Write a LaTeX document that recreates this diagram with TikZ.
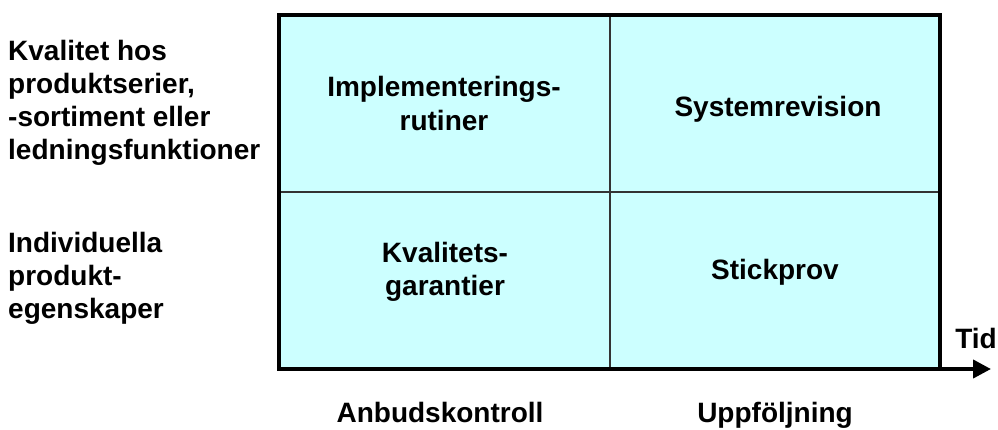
\documentclass[tikz,border=0pt]{standalone}
\usepackage{fontspec}
\setmainfont{Liberation Sans}
\usetikzlibrary{arrows.meta}
\definecolor{cellfill}{HTML}{CCFFFF}
\tikzset{
  lbl/.style={font=\fontsize{28}{33}\selectfont\bfseries, inner sep=0pt},
  lblw/.style={lbl, anchor=base west},
  lblc/.style={lbl, anchor=base},
  frame/.style={draw=black, line width=4pt, fill=cellfill},
  divider/.style={draw=black!80, line width=2pt},
  timearrow/.style={line width=4pt, -{Triangle[length=18pt,width=18pt]}}
}
\begin{document}
\begin{tikzpicture}[x=1pt,y=-1pt]
\useasboundingbox (0,0) rectangle (998,429);
% matrix box
\coordinate (tl) at (279,15);
\coordinate (br) at (940,369);
\path[frame] (tl) rectangle (br);
\coordinate (vt) at (610,15);
\coordinate (vb) at (610,369);
\coordinate (hl) at (279,192);
\coordinate (hr) at (940,192);
\draw[divider] (vt) -- (vb);
\draw[divider] (hl) -- (hr);
\draw[line width=4pt] (tl) rectangle (br);
% time arrow
\coordinate (t0) at (892,369);
\coordinate (t1) at (991,369);
\draw[timearrow] (t0) -- (t1);
\node[lblc] (tid) at (976,348) {Tid};
% row labels
\node[lblw] (r1a) at (8,60) {Kvalitet hos};
\node[lblw] (r1b) at (8,93) {produktserier,};
\node[lblw] (r1c) at (8,126) {-sortiment eller};
\node[lblw] (r1d) at (8,159) {ledningsfunktioner};
\node[lblw] (r2a) at (8,252) {Individuella};
\node[lblw] (r2b) at (8,285) {produkt-};
\node[lblw] (r2c) at (8,318) {egenskaper};
% cells
\node[lblc] (c11a) at (444,96) {Implementerings-};
\node[lblc] (c11b) at (444,130) {rutiner};
\node[lblc] (c12) at (778,116) {Systemrevision};
\node[lblc] (c21a) at (445,262) {Kvalitets-};
\node[lblc] (c21b) at (445,295) {garantier};
\node[lblc] (c22) at (775,279) {Stickprov};
% column labels
\node[lblc] (col1) at (440,422) {Anbudskontroll};
\node[lblc] (col2) at (775,422) {Uppföljning};
\end{tikzpicture}
\end{document}
